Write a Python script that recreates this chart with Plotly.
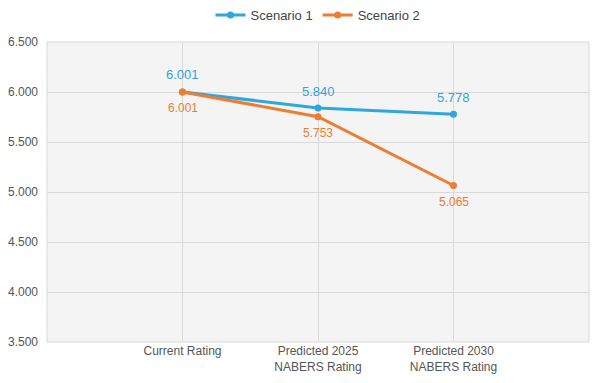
import plotly.graph_objects as go

categories = ["Current Rating", "Predicted 2025<br>NABERS Rating", "Predicted 2030<br>NABERS Rating"]
scenario1 = [6.001, 5.840, 5.778]
scenario2 = [6.001, 5.753, 5.065]
y_ticks = [3.5, 4.0, 4.5, 5.0, 5.5, 6.0, 6.5]
y_tick_labels = ["3.500", "4.000", "4.500", "5.000", "5.500", "6.000", "6.500"]

blue = "#2ea6de"
orange = "#ed7d31"
FONT = "Liberation Sans, Arial, sans-serif"

fig = go.Figure()
fig.add_trace(go.Scatter(
    x=categories, y=scenario1, name="Scenario 1", mode="lines+markers",
    line=dict(color=blue, width=3), marker=dict(size=7, color=blue),
))
fig.add_trace(go.Scatter(
    x=categories, y=scenario2, name="Scenario 2", mode="lines+markers",
    line=dict(color=orange, width=3), marker=dict(size=7, color=orange),
))

annotations = []
for c, v in zip(categories, scenario1):
    annotations.append(dict(x=c, y=v, text=f"{v:.3f}", showarrow=False, yshift=17,
                            font=dict(color=blue, size=13, family=FONT)))
for c, v in zip(categories, scenario2):
    annotations.append(dict(x=c, y=v, text=f"{v:.3f}", showarrow=False, yshift=-16,
                            font=dict(color=orange, size=12, family=FONT)))

fig.update_layout(
    width=597, height=383,
    margin=dict(l=47, r=8, t=42, b=41, autoexpand=False),
    paper_bgcolor="white", plot_bgcolor="#f4f4f4",
    font=dict(family=FONT, size=12, color="#555555"),
    legend=dict(orientation="h", x=0.5, xanchor="center", y=1.04, yanchor="bottom",
                itemwidth=30, font=dict(size=13, color="#444444")),
    showlegend=True,
    annotations=annotations,
)
fig.update_xaxes(type="category", range=[-1, 3], showgrid=True, gridcolor="#d9d9d9",
                 zeroline=False, showline=False, ticks="", tickfont=dict(size=12, color="#555555"))
fig.update_yaxes(range=[3.5, 6.5], tickvals=y_ticks, ticktext=y_tick_labels,
                 showgrid=True, gridcolor="#d9d9d9", zeroline=False, showline=False,
                 ticks="", ticklabelstandoff=8, tickfont=dict(size=12, color="#555555"))
fig.update_layout(shapes=[dict(type="rect", xref="paper", yref="paper", x0=0, x1=1, y0=0, y1=1,
                               line=dict(color="#d9d9d9", width=1), layer="below")])

fig.write_html("out.html", config={"displayModeBar": False},
               post_script="document.body.style.margin='0';document.body.style.overflow='hidden';")
